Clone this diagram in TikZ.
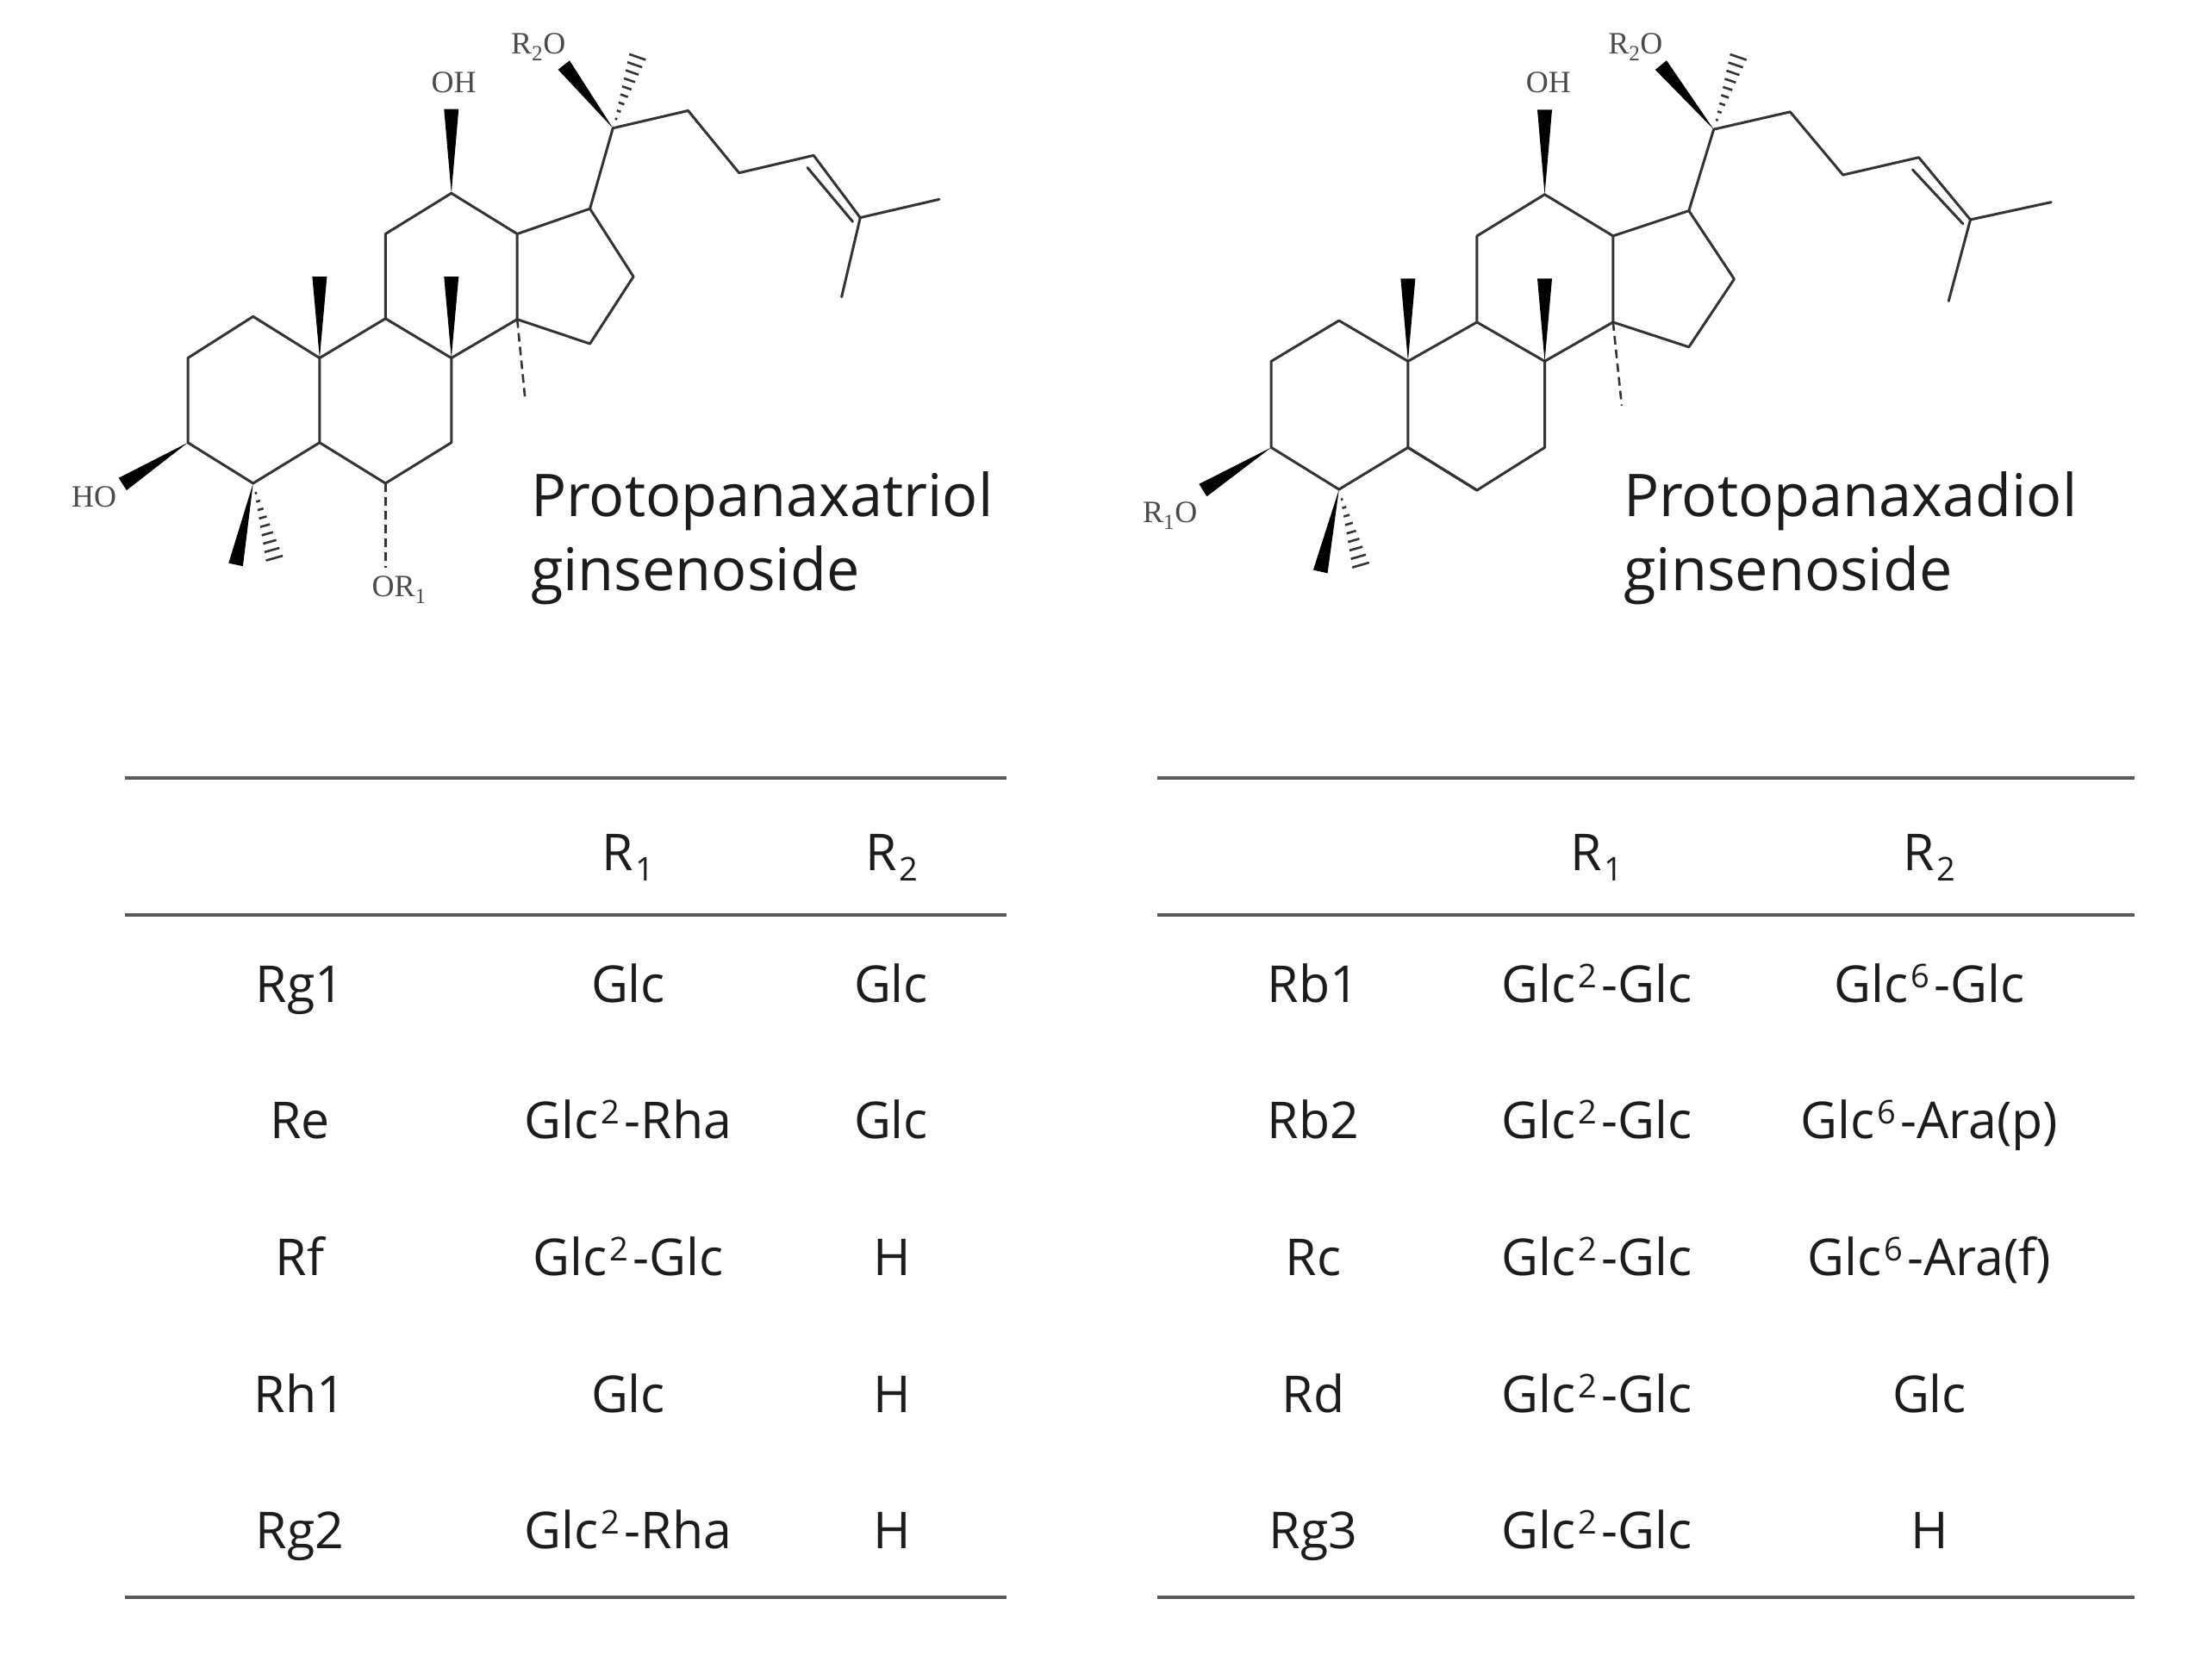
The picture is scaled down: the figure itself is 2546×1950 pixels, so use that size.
\documentclass[tikz,border=0pt]{standalone}
\usepackage{fontspec}
\setmainfont{Open Sans}
\newfontfamily\chemfont{Liberation Serif}
\usetikzlibrary{calc}
\definecolor{bondgray}{HTML}{333333}
\definecolor{rulegray}{HTML}{5A5A5A}
\definecolor{labelgray}{HTML}{4A4A4A}
\definecolor{textblack}{HTML}{1C1C1C}
\tikzset{
  bond/.style={draw=bondgray,line width=3pt,line join=round,line cap=round},
  dashbond/.style={draw=bondgray,line width=2.6pt,dash pattern=on 10pt off 6pt},
  hashline/.style={draw=bondgray,line width=2.6pt},
  wedgefill/.style={fill=black},
  tablerule/.style={draw=rulegray,line width=3.2pt},
  chemlabel/.style={font=\chemfont\fontsize{36}{36}\selectfont,text=labelgray,inner sep=0pt},
  title/.style={font=\fontsize{68.4}{86}\selectfont,text=textblack,inner sep=0pt,anchor=base west},
  cell/.style={font=\fontsize{59}{70}\selectfont,text=textblack,inner sep=0pt,anchor=base},
}
\newcommand{\sups}[1]{\kern3pt\raisebox{17pt}{\fontsize{38}{38}\selectfont #1}\kern5pt}
\newcommand{\subs}[1]{\kern2pt\raisebox{-12pt}{\fontsize{38}{38}\selectfont #1}}
\newcommand{\wedgebond}[2]{\fill[wedgefill] (#1) -- ($(#2)!8.5pt!90:(#1)$) -- ($(#2)!8.5pt!-90:(#1)$) -- cycle;}
\newcommand{\hashbond}[2]{\foreach \t [evaluate=\t as \d using \t*11] in {0.12,0.22,...,1.0}{%
  \draw[hashline] ($(#1)!\t!(#2)!\d pt!90:(#2)$) -- ($(#1)!\t!(#2)!\d pt!-90:(#2)$);}}
\newcommand{\skeleton}[1]{%
  \draw[bond] (#1c20) -- (#1s1) -- (#1s2) -- (#1s3) -- (#1s4) -- (#1s5);
  \draw[bond] (#1s4) -- (#1s6);
  \draw[bond] (#1d1) -- (#1d2);
  \draw[bond] (#1c20) -- (#1c17) -- (#1c13) -- (#1c12) -- (#1c11) -- (#1c9) -- (#1c8) -- (#1c14) -- (#1c13);
  \draw[bond] (#1c17) -- (#1c16) -- (#1c15) -- (#1c14);
  \draw[bond] (#1c9) -- (#1c10) -- (#1c1) -- (#1c2) -- (#1c3) -- (#1c4) -- (#1c5) -- (#1c10);
  \draw[bond] (#1c5) -- (#1c6) -- (#1c7) -- (#1c8);
  \wedgebond{#1c12}{#1oh}
  \wedgebond{#1c10}{#1m19}
  \wedgebond{#1c8}{#1m18}
  \wedgebond{#1c3}{#1o3}
  \wedgebond{#1c4}{#1m28}
  \wedgebond{#1c20}{#1o20}
  \hashbond{#1c4}{#1m29}
  \hashbond{#1c20}{#1m21}
  \draw[dashbond] (#1c14) -- (#1m30);
}
\begin{document}
\begin{tikzpicture}[x=1pt,y=-1pt]
\useasboundingbox (0,0) rectangle (2546,1950);
% left molecule atoms
\begin{scope}[shift={(50pt,0pt)},x=0.7211pt,y=-0.4722pt]
\coordinate (ac20) at (917,315); \coordinate (ao20) at (838,160); \coordinate (am21) at (960,125);
\coordinate (as1) at (1038,272); \coordinate (as2) at (1120,425); \coordinate (as3) at (1240,382);
\coordinate (as4) at (1315,535); \coordinate (as5) at (1442,490); \coordinate (as6) at (1285,730);
\coordinate (ad1) at (1230,412); \coordinate (ad2) at (1303,545);
\coordinate (ac17) at (880,513); \coordinate (ac13) at (763,575); \coordinate (ac12) at (657,475);
\coordinate (ac11) at (551,575); \coordinate (ac9) at (551,783); \coordinate (ac8) at (657,880);
\coordinate (ac10) at (445,880); \coordinate (ac14) at (763,785); \coordinate (ac15) at (880,845);
\coordinate (ac16) at (950,680); \coordinate (ac1) at (338,778); \coordinate (ac2) at (233,880);
\coordinate (ac3) at (233,1088); \coordinate (ac4) at (338,1188); \coordinate (ac5) at (445,1088);
\coordinate (ac6) at (551,1188); \coordinate (ac7) at (657,1088);
\coordinate (aoh) at (657,268); \coordinate (am19) at (445,680); \coordinate (am18) at (657,680);
\coordinate (am30) at (776,985); \coordinate (ao3) at (128,1190); \coordinate (am28) at (310,1388);
\coordinate (am29) at (375,1388); \coordinate (ao6) at (551,1395);
\coordinate (alr2) at (797,115); \coordinate (aloh) at (661,203); \coordinate (alho) at (82,1222); \coordinate (alor) at (573,1450);
\end{scope}
% right molecule atoms
\begin{scope}[shift={(1300pt,0pt)},x=0.7211pt,y=-0.4722pt]
\coordinate (bc20) at (955,318); \coordinate (bo20) at (870,160); \coordinate (bm21) at (998,125);
\coordinate (bs1) at (1078,275); \coordinate (bs2) at (1163,430); \coordinate (bs3) at (1285,387);
\coordinate (bs4) at (1368,540); \coordinate (bs5) at (1498,497); \coordinate (bs6) at (1333,740);
\coordinate (bd1) at (1275,417); \coordinate (bd2) at (1356,550);
\coordinate (bc17) at (915,518); \coordinate (bc13) at (793,580); \coordinate (bc12) at (683,478);
\coordinate (bc11) at (574,580); \coordinate (bc9) at (574,792); \coordinate (bc8) at (683,888);
\coordinate (bc10) at (463,888); \coordinate (bc14) at (793,792); \coordinate (bc15) at (915,853);
\coordinate (bc16) at (988,686); \coordinate (bc1) at (352,788); \coordinate (bc2) at (243,888);
\coordinate (bc3) at (243,1100); \coordinate (bc4) at (352,1203); \coordinate (bc5) at (463,1100);
\coordinate (bc6) at (574,1205); \coordinate (bc7) at (683,1100);
\coordinate (boh) at (683,270); \coordinate (bm19) at (463,685); \coordinate (bm18) at (683,685);
\coordinate (bm30) at (807,997); \coordinate (bo3) at (133,1205); \coordinate (bm28) at (322,1405);
\coordinate (bm29) at (390,1405);
\coordinate (blr2) at (829,115); \coordinate (bloh) at (689,203); \coordinate (blr1) at (80,1268);
\end{scope}
\skeleton{a}
\skeleton{b}
\draw[dashbond] (ac6) -- (ao6);
\draw[bond] (bc5) -- (bc6);
% labels
\node[chemlabel] (lr2a) at (alr2) {R\textsubscript{2}O};
\node[chemlabel] (loha) at (aloh) {OH};
\node[chemlabel] (lhoa) at (alho) {HO};
\node[chemlabel] (lora) at (alor) {OR\textsubscript{1}};
\node[chemlabel] (lr2b) at (blr2) {R\textsubscript{2}O};
\node[chemlabel] (lohb) at (bloh) {OH};
\node[chemlabel] (lr1b) at (blr1) {R\textsubscript{1}O};
% titles
\node[title] (ta1) at (616,599) {Protopanaxatriol};
\node[title] (ta2) at (616,685) {ginsenoside};
\node[title] (tb1) at (1884,599) {Protopanaxadiol};
\node[title] (tb2) at (1884,685) {ginsenoside};
% table rules
\coordinate (la) at (145,903); \coordinate (ra) at (1168,903);
\coordinate (lb) at (145,1062); \coordinate (rb) at (1168,1062);
\coordinate (lc) at (145,1854); \coordinate (rc) at (1168,1854);
\coordinate (ld) at (1343,903); \coordinate (rd) at (2477,903);
\coordinate (le) at (1343,1062); \coordinate (re) at (2477,1062);
\coordinate (lf) at (1343,1854); \coordinate (rf) at (2477,1854);
\foreach \p/\q in {la/ra,lb/rb,lc/rc,ld/rd,le/re,lf/rf} \draw[tablerule] (\p) -- (\q);
% left table
\node[cell] (h1) at (729,1010) {R\subs{1}};
\node[cell] (h2) at (1035,1010) {R\subs{2}};
\node[cell] (a11) at (348,1163) {Rg1};
\node[cell] (a12) at (729,1163) {Glc};
\node[cell] (a13) at (1034,1163) {Glc};
\node[cell] (a21) at (348,1321) {Re};
\node[cell] (a22) at (729,1321) {Glc\sups{2}-Rha};
\node[cell] (a23) at (1034,1321) {Glc};
\node[cell] (a31) at (348,1480) {Rf};
\node[cell] (a32) at (729,1480) {Glc\sups{2}-Glc};
\node[cell] (a33) at (1035,1480) {H};
\node[cell] (a41) at (348,1639) {Rh1};
\node[cell] (a42) at (729,1639) {Glc};
\node[cell] (a43) at (1035,1639) {H};
\node[cell] (a51) at (348,1797) {Rg2};
\node[cell] (a52) at (729,1797) {Glc\sups{2}-Rha};
\node[cell] (a53) at (1035,1797) {H};
% right table
\node[cell] (h3) at (1853,1010) {R\subs{1}};
\node[cell] (h4) at (2239,1010) {R\subs{2}};
\node[cell] (b11) at (1524,1163) {Rb1};
\node[cell] (b12) at (1853,1163) {Glc\sups{2}-Glc};
\node[cell] (b13) at (2239,1163) {Glc\sups{6}-Glc};
\node[cell] (b21) at (1524,1321) {Rb2};
\node[cell] (b22) at (1853,1321) {Glc\sups{2}-Glc};
\node[cell] (b23) at (2239,1321) {Glc\sups{6}-Ara(p)};
\node[cell] (b31) at (1524,1480) {Rc};
\node[cell] (b32) at (1853,1480) {Glc\sups{2}-Glc};
\node[cell] (b33) at (2239,1480) {Glc\sups{6}-Ara(f)};
\node[cell] (b41) at (1524,1639) {Rd};
\node[cell] (b42) at (1853,1639) {Glc\sups{2}-Glc};
\node[cell] (b43) at (2239,1639) {Glc};
\node[cell] (b51) at (1524,1797) {Rg3};
\node[cell] (b52) at (1853,1797) {Glc\sups{2}-Glc};
\node[cell] (b53) at (2239,1797) {H};
\end{tikzpicture}
\end{document}
